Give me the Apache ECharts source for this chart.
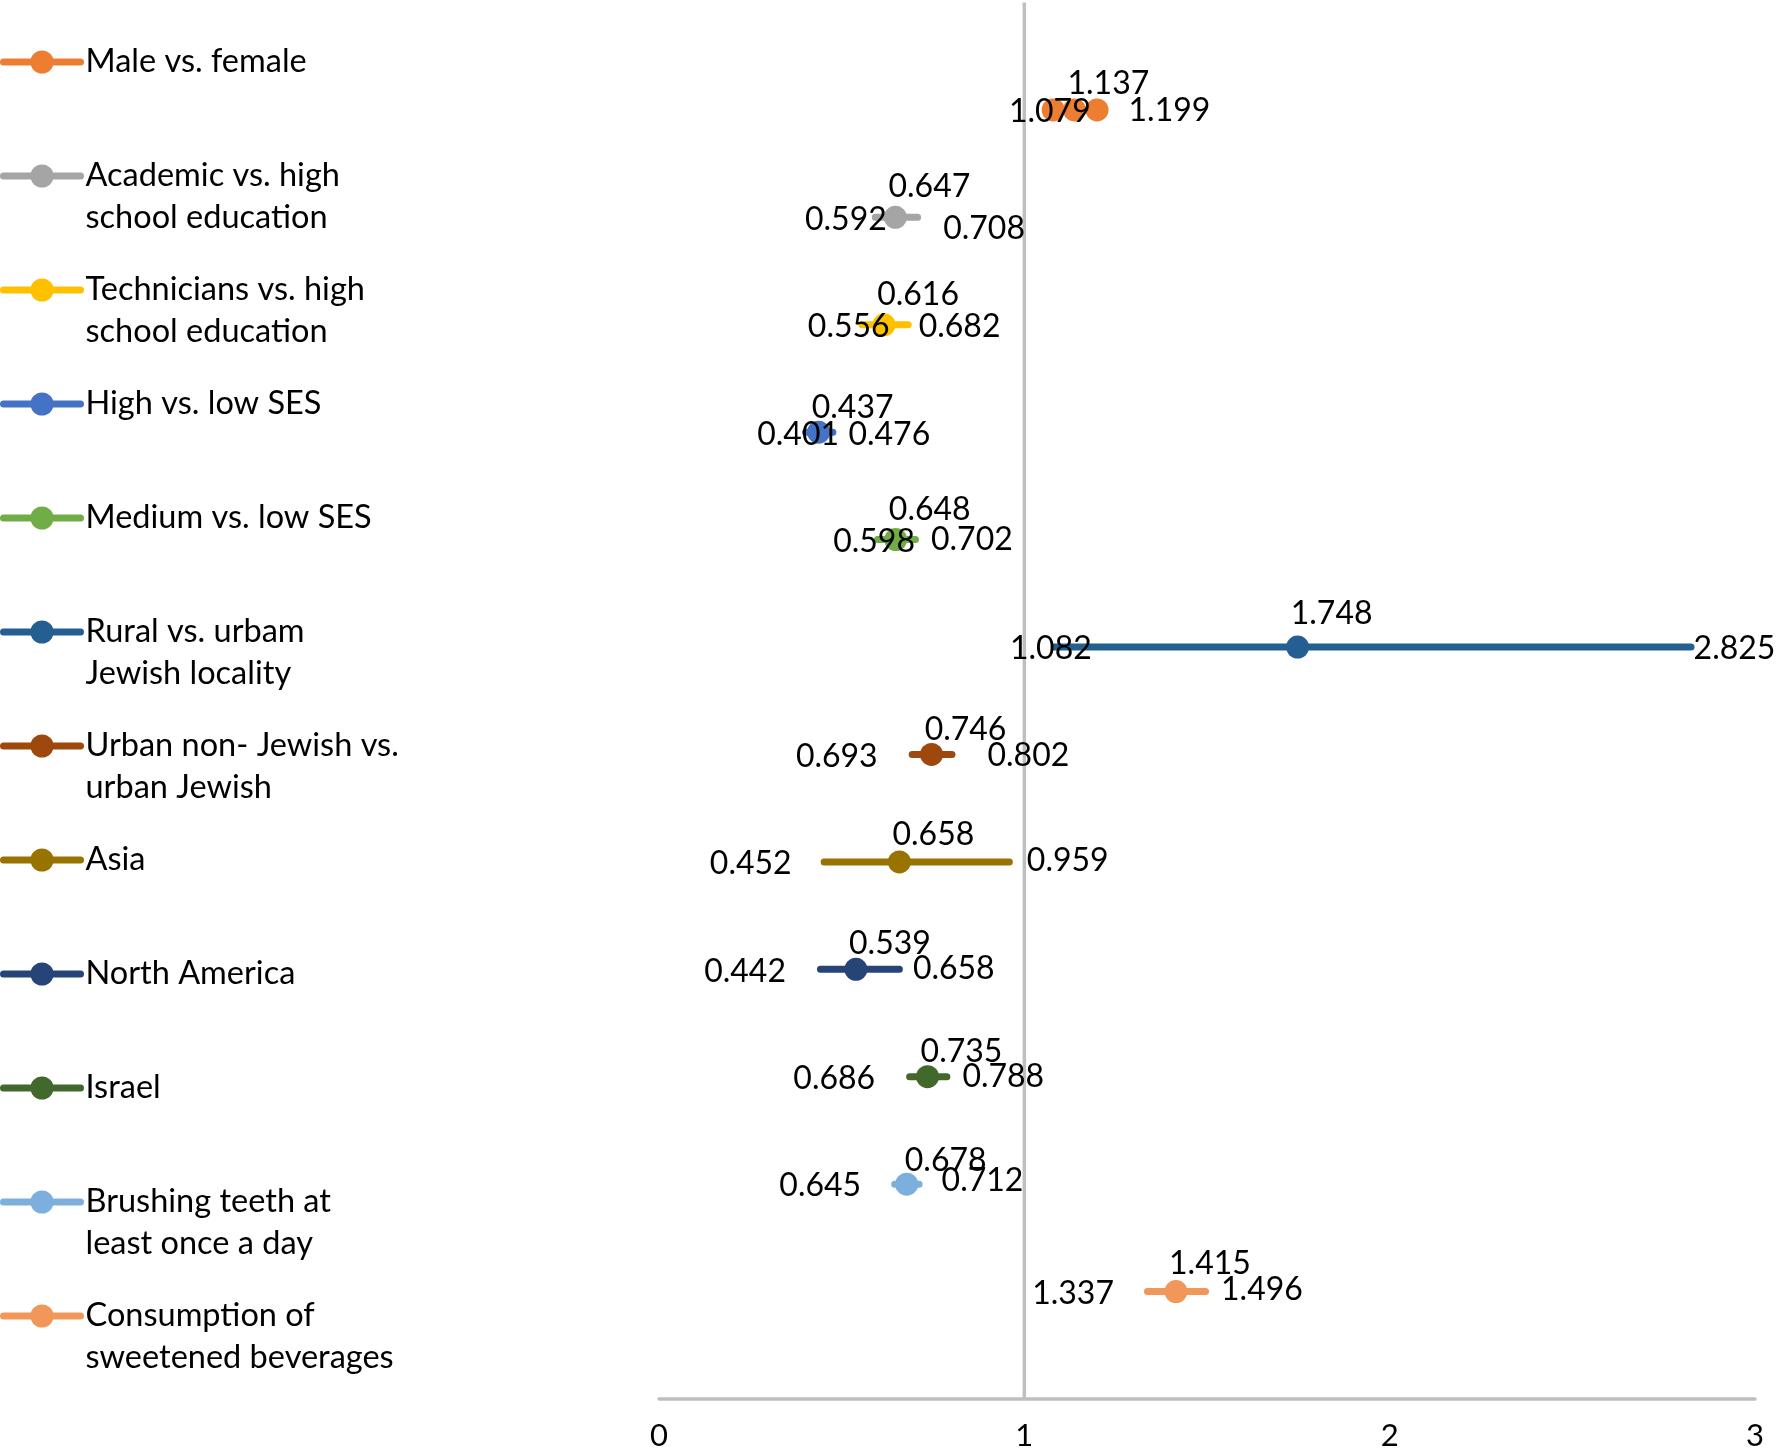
<!DOCTYPE html>
<html>
<head>
<meta charset="utf-8">
<script src="https://cdn.jsdelivr.net/npm/echarts@6/dist/echarts.min.js"></script>
<style>
html,body{margin:0;padding:0;background:#fff;}
#chart{width:1776px;height:1456px;}
</style>
</head>
<body>
<div id="chart"></div>
<script>
// ---- data ----
var categories = [
  'Male vs. female',
  'Academic vs. high school education',
  'Technicians vs. high school education',
  'High vs. low SES',
  'Medium vs. low SES',
  'Rural vs. urbam Jewish locality',
  'Urban non- Jewish vs. urban Jewish',
  'Asia',
  'North America',
  'Israel',
  'Brushing teeth at least once a day',
  'Consumption of sweetened beverages'
];
var legendLines = [
  ['Male vs. female'],
  ['Academic vs. high', 'school education'],
  ['Technicians vs. high', 'school education'],
  ['High vs. low SES'],
  ['Medium vs. low SES'],
  ['Rural vs. urbam', 'Jewish locality'],
  ['Urban non- Jewish vs.', 'urban Jewish'],
  ['Asia'],
  ['North America'],
  ['Israel'],
  ['Brushing teeth at', 'least once a day'],
  ['Consumption of', 'sweetened beverages']
];
var lower = [1.079, 0.592, 0.556, 0.401, 0.598, 1.082, 0.693, 0.452, 0.442, 0.686, 0.645, 1.337];
var estimate = [1.137, 0.647, 0.616, 0.437, 0.648, 1.748, 0.746, 0.658, 0.539, 0.735, 0.678, 1.415];
var upper = [1.199, 0.708, 0.682, 0.476, 0.702, 2.825, 0.802, 0.959, 0.658, 0.788, 0.712, 1.496];
var xTicks = [0, 1, 2, 3];
var referenceValue = 1;

// ---- styles ----
var colors = ['#ED7D31', '#A5A5A5', '#FFC000', '#4472C4', '#70AD47', '#255E91',
              '#9E480E', '#997300', '#264478', '#43682B', '#7CAFDD', '#F1975A'];
var endMarkers = [true, false, false, false, false, false, false, false, false, false, false, false];
var lowShift = [[83, 2], [46, 2], [62, 2], [68, 2], [72, 2], [72, 2], [0, 2], [2, 2], [0, 2], [0, 2], [1, 2], [1, 2]];
var midShift = [[34, 2], [34, -2], [34, -2], [34, 4], [34, -1], [34, -5], [34, 4], [34, 1], [34, 3], [34, 3], [39, 5], [34, 1]];
var highShift = [[5, 1], [10, 11], [-5, 2], [0, 2], [0, 0], [-13, 2], [20, 1], [2, -1], [-2, -1], [0, 0], [7, -3], [0, -2]];

var FONT = 'Lato, "Open Sans", sans-serif';
var MARK = 23;
var n = categories.length;

var labelBase = {show: true, color: '#000', fontSize: 32, lineHeight: 34, fontFamily: FONT,
  formatter: function (p) { return p.value[0].toFixed(3); }};

var series = categories.map(function (name, i) {
  var y = n - i;
  var endSize = endMarkers[i] ? MARK : 1;
  return {
    name: name,
    type: 'line',
    z: 3,
    color: colors[i],
    symbol: 'circle',
    lineStyle: {width: 7, cap: 'round', color: colors[i]},
    itemStyle: {color: colors[i]},
    emphasis: {disabled: true},
    animation: false,
    data: [
      {value: [lower[i], y], symbolSize: endSize,
       label: Object.assign({}, labelBase, {position: 'left', distance: 34, offset: lowShift[i]})},
      {value: [estimate[i], y], symbolSize: MARK,
       label: Object.assign({}, labelBase, {position: 'top', distance: 0, offset: midShift[i]})},
      {value: [upper[i], y], symbolSize: endSize,
       label: Object.assign({}, labelBase, {position: 'right', distance: 15, offset: highShift[i]})}
    ]
  };
});

series.push({
  name: 'reference',
  type: 'line',
  z: 1,
  silent: true,
  symbol: 'none',
  animation: false,
  lineStyle: {color: '#BFBFBF', width: 3.5},
  data: [[referenceValue, 0], [referenceValue, n + 1]]
});

var legends = categories.map(function (name, i) {
  var lines = legendLines[i];
  return {
    data: [name],
    left: 0,
    top: 62 + 114 * i - 63,
    padding: 0,
    itemWidth: 77,
    itemHeight: 29,
    itemGap: 0,
    selectedMode: false,
    lineStyle: {width: 7},
    textStyle: {color: '#000', fontSize: 32.5, lineHeight: 42, fontFamily: FONT},
    formatter: function () { return '\n' + lines[0] + '\n' + (lines[1] || ' '); }
  };
});

var chart = echarts.init(document.getElementById('chart'), null, {renderer: 'canvas'});
chart.setOption({
  backgroundColor: '#fff',
  animation: false,
  legend: legends,
  grid: {left: 659, right: 21, top: 2.5, bottom: 57, containLabel: false},
  xAxis: {
    type: 'value', min: xTicks[0], max: xTicks[xTicks.length - 1], interval: 1,
    axisLine: {show: true, lineStyle: {color: '#BFBFBF', width: 3.5}},
    axisTick: {show: false},
    splitLine: {show: false},
    axisLabel: {color: '#000', fontSize: 31, fontFamily: FONT, margin: 21,
      formatter: function (v) { return xTicks.indexOf(v) >= 0 ? String(v) : ''; }}
  },
  yAxis: {
    type: 'value', min: 0, max: n + 1, show: false
  },
  series: series
});
</script>
</body>
</html>
